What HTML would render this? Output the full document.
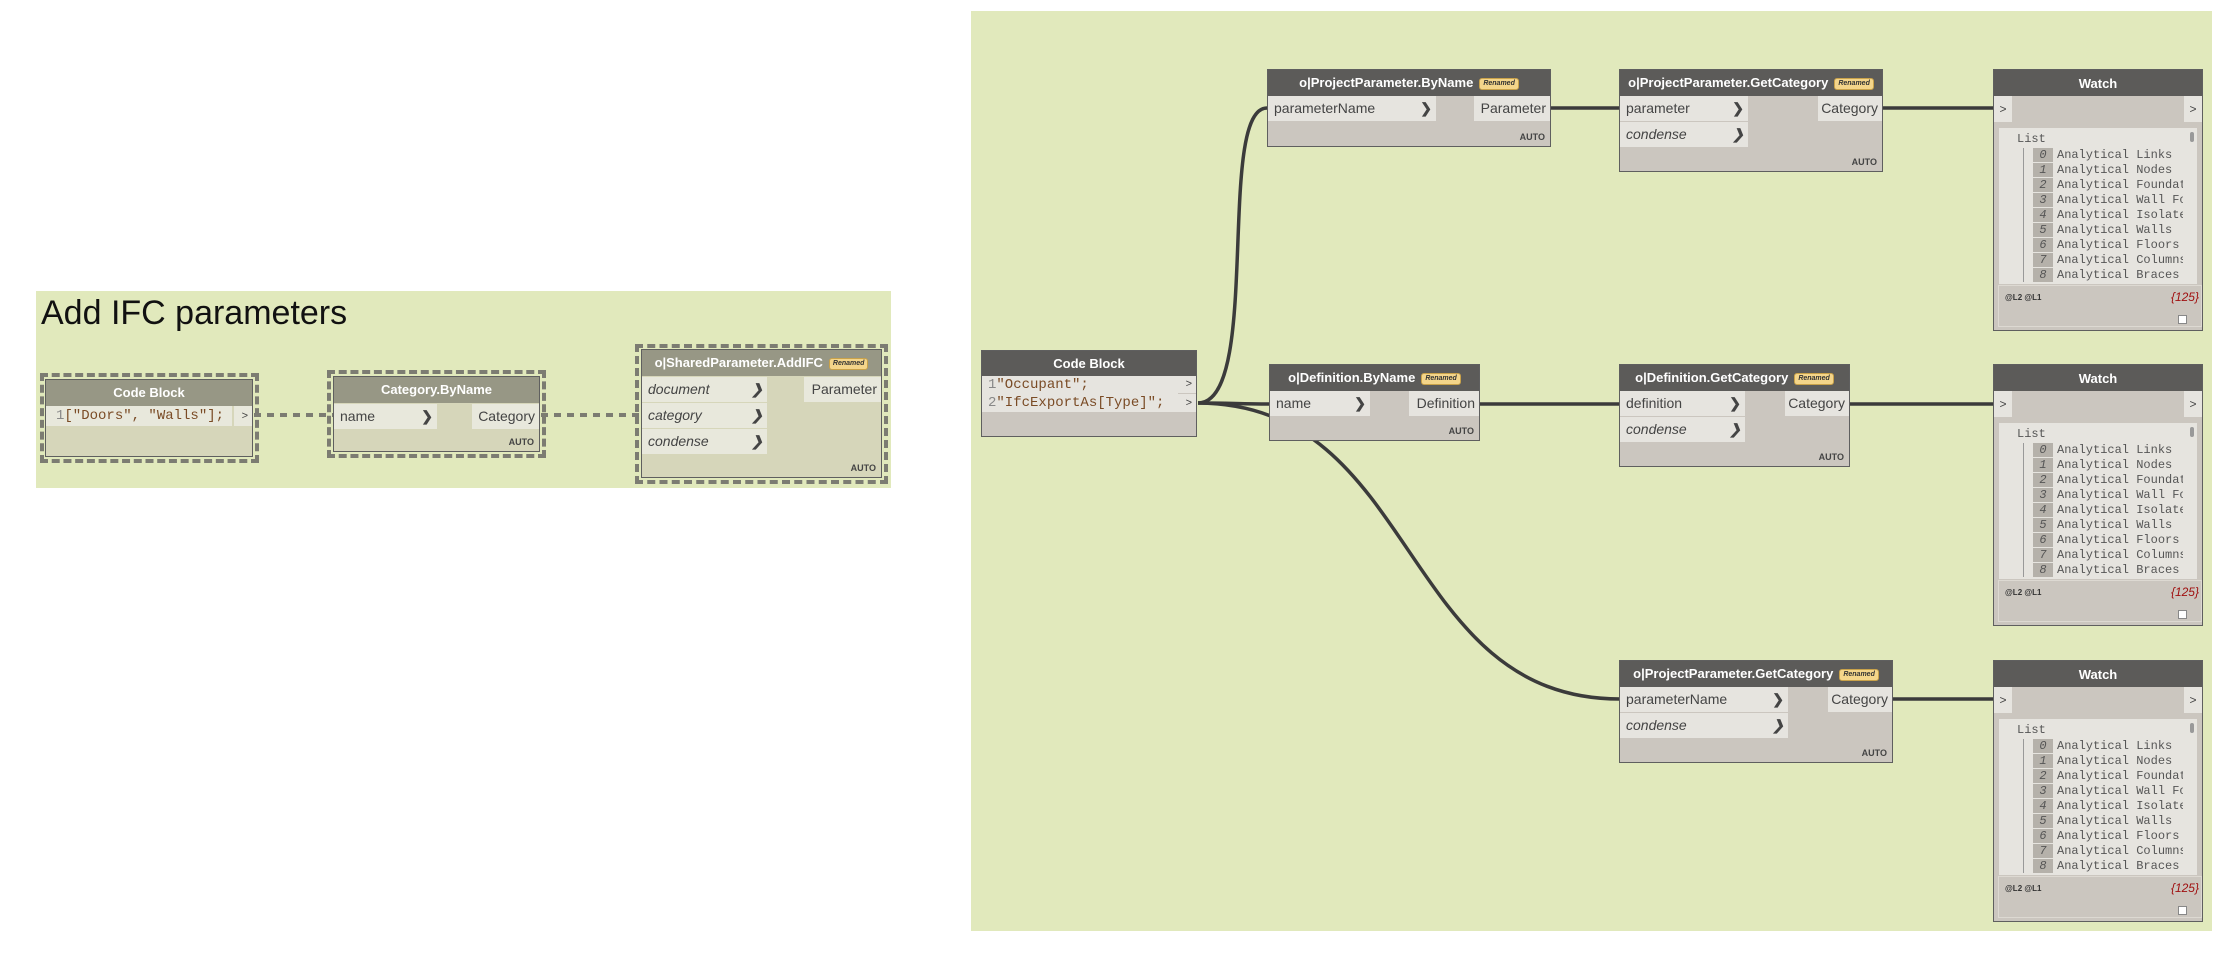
<!DOCTYPE html>
<html><head><meta charset="utf-8"><style>
*{box-sizing:border-box;margin:0;padding:0}
body{width:2238px;height:962px;background:#fff;position:relative;overflow:hidden;font-family:"Liberation Sans",sans-serif}
.grp{position:absolute;background:#e1e9bc}
.node{position:absolute;background:#cbc6bf;border:1.5px solid #5f5f5f}
.hd{height:26px;background:#5c5b59;color:#fff;font-weight:bold;font-size:13px;text-align:center;line-height:26px;white-space:nowrap}
.in,.out{position:absolute;height:25px;background:#e6e4df;font-size:14px;line-height:25px;color:#444;white-space:nowrap}
.in{left:0;padding-left:6px}
.in b{position:absolute;right:4px;top:0;font-weight:bold;color:#444}
.out{right:0;padding-right:4px;text-align:right}
.it{font-style:italic}
.auto{position:absolute;right:5px;bottom:4px;font-size:9px;font-weight:bold;color:#444}
.ren{display:inline-block;background:#f4d58a;border:1px solid #c9a24a;border-radius:3px;color:#333;font-size:7px;font-style:italic;font-weight:bold;line-height:10px;padding:0 3px;vertical-align:2px;margin-left:6px}
.lg .hd{background:#979785}
.lg{background:#d6d6ba}
.lg .in,.lg .out{background:#e8e8dc}
.dash{position:absolute;border:4px dashed #7c7c72}
.mono{font-family:"Liberation Mono",monospace}
.w .row{position:absolute;left:0;right:0;top:26px;height:26px;background:#cbc6bf}
.w .pl,.w .pr{position:absolute;top:0;width:18px;height:26px;background:#e6e4df;font-size:12px;line-height:26px;text-align:center;color:#444}
.w .pl{left:0}.w .pr{right:0}
.w .lst{position:absolute;left:5px;right:5px;top:58px;height:156px;background:#e6e4df;font-family:"Liberation Mono",monospace;font-size:12px;color:#555}
.w .lst .t{position:absolute;left:18px;top:4px}
.w .lst .vl{position:absolute;left:24px;top:20px;width:1px;height:134px;background:#999}
.w .it2{position:absolute;left:34px;height:14px;line-height:14px;white-space:nowrap;overflow:hidden;width:150px}
.w .it2 i{display:inline-block;width:20px;background:#b5b1aa;text-align:center;margin-right:4px;color:#555}
.w .sb{position:absolute;right:3px;top:4px;width:4px;height:10px;background:#999;border-radius:2px}
.w .ft{position:absolute;left:4px;right:0;top:215px;height:42px;border:1px solid #ddd9d2}
.w .lv{position:absolute;left:6px;top:7px;font-size:8px;font-weight:bold;color:#333}
.w .cnt{position:absolute;right:2px;top:4px;font-size:12px;font-style:italic;color:#a01010}
.w .cb{position:absolute;right:14px;top:29px;width:9px;height:9px;background:#fff;border:1px solid #888}
</style></head><body>

<div class="grp" style="left:36px;top:291px;width:855px;height:197px"></div>
<div style="position:absolute;left:41px;top:294px;font-size:34px;color:#111">Add IFC parameters</div>
<div class="grp" style="left:971px;top:11px;width:1241px;height:920px"></div>

<svg style="position:absolute;left:0;top:0" width="2238" height="962">
<g stroke="#7c7c72" stroke-width="4" stroke-dasharray="7,6" fill="none">
<line x1="254" y1="415" x2="333" y2="415"/>
<line x1="541" y1="415" x2="641" y2="415"/>
</g>
<g stroke="#3b3b3b" stroke-width="3.5" fill="none">
<path d="M1198 403 C1262 403 1216 108 1267 108"/>
<path d="M1198 403 C1230 403 1240 404 1269 404"/>
<path d="M1198 403 C1420 404 1398 699 1620 699"/>
<line x1="1551" y1="108" x2="1620" y2="108"/>
<line x1="1883" y1="108" x2="1994" y2="108"/>
<line x1="1480" y1="404" x2="1620" y2="404"/>
<line x1="1850" y1="404" x2="1994" y2="404"/>
<line x1="1893" y1="699" x2="1994" y2="699"/>
</g>
</svg>

<!-- left group -->
<div class="dash" style="left:40px;top:373px;width:219px;height:90px"></div>
<div class="node lg" style="left:45px;top:379px;width:208px;height:78px">
<div class="hd">Code Block</div>
<div class="in mono" style="top:26px;width:186px;padding-left:10px;color:#7a4b25;font-size:14px;line-height:20px;height:20px"><span style="color:#888">1</span>["Doors", "Walls"];</div>
<div class="out" style="top:26px;width:18px;height:20px;line-height:20px;font-size:11px">&gt;</div>
</div>
<div class="dash" style="left:327px;top:370px;width:219px;height:88px"></div>
<div class="node lg" style="left:333px;top:376px;width:207px;height:76px">
<div class="hd">Category.ByName</div>
<div class="in" style="top:27px;width:103px">name<b>❯</b></div>
<div class="out" style="top:27px;width:67px">Category</div>
<div class="auto">AUTO</div>
</div>
<div class="dash" style="left:635px;top:344px;width:253px;height:140px"></div>
<div class="node lg" style="left:641px;top:349px;width:241px;height:129px">
<div class="hd">o|SharedParameter.AddIFC<span class="ren">Renamed</span></div>
<div class="in it" style="top:27px;width:125px">document<b>❯</b></div>
<div class="in it" style="top:53px;width:125px">category<b>❯</b></div>
<div class="in it" style="top:79px;width:125px">condense<b>❯</b></div>
<div class="out" style="top:27px;width:77px">Parameter</div>
<div class="auto">AUTO</div>
</div>

<!-- right group -->
<div class="node" style="left:981px;top:350px;width:216px;height:87px">
<div class="hd">Code Block</div>
<div class="in mono" style="top:25px;width:196px;height:36px;padding-left:6px;color:#7a4b25;font-size:14px;line-height:18px"><span style="color:#888">1</span>"Occupant";<br><span style="color:#888">2</span>"IfcExportAs[Type]";</div>
<div class="out" style="top:25px;width:18px;height:17px;line-height:17px;font-size:11px">&gt;</div>
<div class="out" style="top:43px;width:18px;height:18px;line-height:18px;font-size:11px">&gt;</div>
</div>

<div class="node" style="left:1267px;top:69px;width:284px;height:78px">
<div class="hd">o|ProjectParameter.ByName<span class="ren">Renamed</span></div>
<div class="in" style="top:26px;width:168px">parameterName<b>❯</b></div>
<div class="out" style="top:26px;width:76px">Parameter</div>
<div class="auto">AUTO</div>
</div>

<div class="node" style="left:1619px;top:69px;width:264px;height:103px">
<div class="hd">o|ProjectParameter.GetCategory<span class="ren">Renamed</span></div>
<div class="in" style="top:26px;width:128px">parameter<b>❯</b></div>
<div class="in it" style="top:52px;width:128px">condense<b>❯</b></div>
<div class="out" style="top:26px;width:64px">Category</div>
<div class="auto">AUTO</div>
</div>

<div class="node" style="left:1269px;top:364px;width:211px;height:77px">
<div class="hd">o|Definition.ByName<span class="ren">Renamed</span></div>
<div class="in" style="top:26px;width:100px">name<b>❯</b></div>
<div class="out" style="top:26px;width:70px">Definition</div>
<div class="auto">AUTO</div>
</div>

<div class="node" style="left:1619px;top:364px;width:231px;height:103px">
<div class="hd">o|Definition.GetCategory<span class="ren">Renamed</span></div>
<div class="in" style="top:26px;width:125px">definition<b>❯</b></div>
<div class="in it" style="top:52px;width:125px">condense<b>❯</b></div>
<div class="out" style="top:26px;width:64px">Category</div>
<div class="auto">AUTO</div>
</div>

<div class="node" style="left:1619px;top:660px;width:274px;height:103px">
<div class="hd">o|ProjectParameter.GetCategory<span class="ren">Renamed</span></div>
<div class="in" style="top:26px;width:168px">parameterName<b>❯</b></div>
<div class="in it" style="top:52px;width:168px">condense<b>❯</b></div>
<div class="out" style="top:26px;width:64px">Category</div>
<div class="auto">AUTO</div>
</div>

<!-- watches -->
<div class="node w" style="left:1993px;top:69px;width:210px;height:262px">
<div class="hd" style="height:27px;line-height:27px">Watch</div>
<div class="row"><div class="pl">&gt;</div><div class="pr">&gt;</div></div>
<div class="lst"><div class="t">List</div><div class="vl"></div><div class="sb"></div>
<div class="it2" style="top:20px"><i>0</i>Analytical Links</div>
<div class="it2" style="top:35px"><i>1</i>Analytical Nodes</div>
<div class="it2" style="top:50px"><i>2</i>Analytical Foundati</div>
<div class="it2" style="top:65px"><i>3</i>Analytical Wall Fou</div>
<div class="it2" style="top:80px"><i>4</i>Analytical Isolated</div>
<div class="it2" style="top:95px"><i>5</i>Analytical Walls</div>
<div class="it2" style="top:110px"><i>6</i>Analytical Floors</div>
<div class="it2" style="top:125px"><i>7</i>Analytical Columns</div>
<div class="it2" style="top:140px"><i>8</i>Analytical Braces</div>
</div>
<div class="ft"><div class="lv">@L2 @L1</div><div class="cnt">{125}</div><div class="cb"></div></div>
</div>

<div class="node w" style="left:1993px;top:364px;width:210px;height:262px">
<div class="hd" style="height:27px;line-height:27px">Watch</div>
<div class="row"><div class="pl">&gt;</div><div class="pr">&gt;</div></div>
<div class="lst"><div class="t">List</div><div class="vl"></div><div class="sb"></div>
<div class="it2" style="top:20px"><i>0</i>Analytical Links</div>
<div class="it2" style="top:35px"><i>1</i>Analytical Nodes</div>
<div class="it2" style="top:50px"><i>2</i>Analytical Foundati</div>
<div class="it2" style="top:65px"><i>3</i>Analytical Wall Fou</div>
<div class="it2" style="top:80px"><i>4</i>Analytical Isolated</div>
<div class="it2" style="top:95px"><i>5</i>Analytical Walls</div>
<div class="it2" style="top:110px"><i>6</i>Analytical Floors</div>
<div class="it2" style="top:125px"><i>7</i>Analytical Columns</div>
<div class="it2" style="top:140px"><i>8</i>Analytical Braces</div>
</div>
<div class="ft"><div class="lv">@L2 @L1</div><div class="cnt">{125}</div><div class="cb"></div></div>
</div>

<div class="node w" style="left:1993px;top:660px;width:210px;height:262px">
<div class="hd" style="height:27px;line-height:27px">Watch</div>
<div class="row"><div class="pl">&gt;</div><div class="pr">&gt;</div></div>
<div class="lst"><div class="t">List</div><div class="vl"></div><div class="sb"></div>
<div class="it2" style="top:20px"><i>0</i>Analytical Links</div>
<div class="it2" style="top:35px"><i>1</i>Analytical Nodes</div>
<div class="it2" style="top:50px"><i>2</i>Analytical Foundati</div>
<div class="it2" style="top:65px"><i>3</i>Analytical Wall Fou</div>
<div class="it2" style="top:80px"><i>4</i>Analytical Isolated</div>
<div class="it2" style="top:95px"><i>5</i>Analytical Walls</div>
<div class="it2" style="top:110px"><i>6</i>Analytical Floors</div>
<div class="it2" style="top:125px"><i>7</i>Analytical Columns</div>
<div class="it2" style="top:140px"><i>8</i>Analytical Braces</div>
</div>
<div class="ft"><div class="lv">@L2 @L1</div><div class="cnt">{125}</div><div class="cb"></div></div>
</div>

</body></html>
